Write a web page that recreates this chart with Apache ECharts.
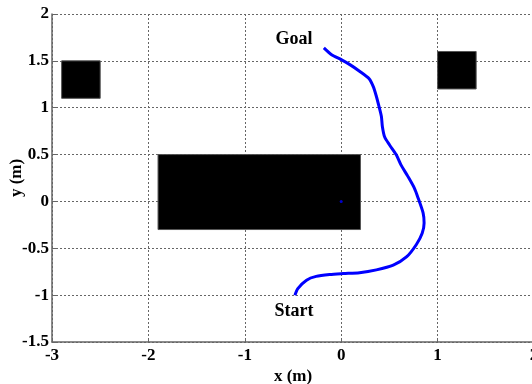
<!DOCTYPE html>
<html>
<head>
<meta charset="utf-8">
<script src="https://cdn.jsdelivr.net/npm/echarts@6/dist/echarts.min.js"></script>
<style>html,body{margin:0;padding:0;background:#fff}#c{width:532px;height:384px}</style>
</head>
<body>
<div id="c"></div>
<script>
// Robot path (x, y) in metres, from Start to Goal
var pathPoints = [
  [-0.48,-1.0],[-0.45,-0.93],[-0.36,-0.84],[-0.26,-0.8],[-0.12,-0.78],[0.02,-0.77],
  [0.19,-0.76],[0.365,-0.73],[0.54,-0.68],[0.68,-0.59],[0.78,-0.46],[0.84,-0.34],
  [0.86,-0.23],[0.85,-0.125],[0.80,0.03],[0.76,0.14],[0.69,0.27],[0.62,0.39],
  [0.57,0.50],[0.50,0.605],[0.45,0.69],[0.427,0.80],[0.417,0.907],[0.392,1.014],
  [0.365,1.12],[0.335,1.22],[0.29,1.31],[0.19,1.39],[0.09,1.46],[0.0,1.513],
  [-0.10,1.566],[-0.18,1.638]
];
// Obstacles: [xMin, xMax, yMin, yMax]
var obstacles = [
  [-2.9, -2.5, 1.1, 1.5],
  [1.0, 1.4, 1.2, 1.6],
  [-1.9, 0.2, -0.3, 0.5]
];
var centerDot = [[0, 0]];
var annotationNames = ['Goal', 'Start'];
var annotationPos = [[-0.49, 1.727], [-0.49, -1.17]];
var xTicks = [-3, -2, -1, 0, 1, 2];
var yTicks = [-1.5, -1, -0.5, 0, 0.5, 1, 1.5, 2];

var font = 'Liberation Serif';
var chart = echarts.init(document.getElementById('c'));
chart.setOption({
  animation: false,
  grid: {left: 52, top: 14, width: 482, height: 328, containLabel: false, outerBoundsMode: 'none'},
  xAxis: {
    type: 'value', min: xTicks[0], max: xTicks[xTicks.length-1], interval: 1,
    name: 'x (m)', nameLocation: 'middle', nameGap: 26, nameMoveOverlap: false,
    nameTextStyle: {fontFamily: font, fontWeight: 'bold', fontSize: 17, color: '#000'},
    axisLine: {onZero: false, lineStyle: {color: '#666', width: 1.5}},
    axisTick: {show: true, inside: true, length: 4, lineStyle: {color: '#666'}},
    axisLabel: {fontFamily: font, fontWeight: 'bold', fontSize: 17, color: '#000', margin: 5},
    splitLine: {show: true, lineStyle: {color: '#666', type: [2, 2], width: 1}}
  },
  yAxis: {
    type: 'value', min: yTicks[0], max: yTicks[yTicks.length-1], interval: 0.5,
    name: 'y (m)', nameLocation: 'middle', nameGap: 27, nameRotate: 90, nameMoveOverlap: false,
    nameTextStyle: {fontFamily: font, fontWeight: 'bold', fontSize: 17, color: '#000'},
    axisLine: {onZero: false, lineStyle: {color: '#666', width: 1.5}},
    axisTick: {show: true, inside: true, length: 4, lineStyle: {color: '#666'}},
    axisLabel: {fontFamily: font, fontWeight: 'bold', fontSize: 17, color: '#000', margin: 3},
    splitLine: {show: true, lineStyle: {color: '#666', type: [2, 2], width: 1}}
  },
  series: [
    {
      type: 'custom',
      data: obstacles,
      z: 3,
      renderItem: function (params, api) {
        var p1 = api.coord([api.value(0), api.value(3)]);
        var p2 = api.coord([api.value(1), api.value(2)]);
        return {
          type: 'rect',
          shape: {x: p1[0], y: p1[1], width: p2[0]-p1[0], height: p2[1]-p1[1]},
          style: {fill: '#000', stroke: '#555', lineWidth: 1}
        };
      }
    },
    {
      type: 'line', data: pathPoints, smooth: 0.25, showSymbol: false, z: 4,
      lineStyle: {color: '#0000ff', width: 3}
    },
    {
      type: 'scatter', data: centerDot, symbolSize: 3, z: 5,
      itemStyle: {color: '#0000ff'}
    },
    {
      type: 'custom', z: 6,
      data: annotationPos,
      renderItem: function (params, api) {
        var p = api.coord([api.value(0), api.value(1)]);
        return {
          type: 'text',
          style: {x: p[0], y: p[1], text: annotationNames[params.dataIndex],
            fill: '#000', align: 'center', verticalAlign: 'middle',
            font: 'bold 18px "Liberation Serif"'}
        };
      }
    }
  ]
});
</script>
</body>
</html>
